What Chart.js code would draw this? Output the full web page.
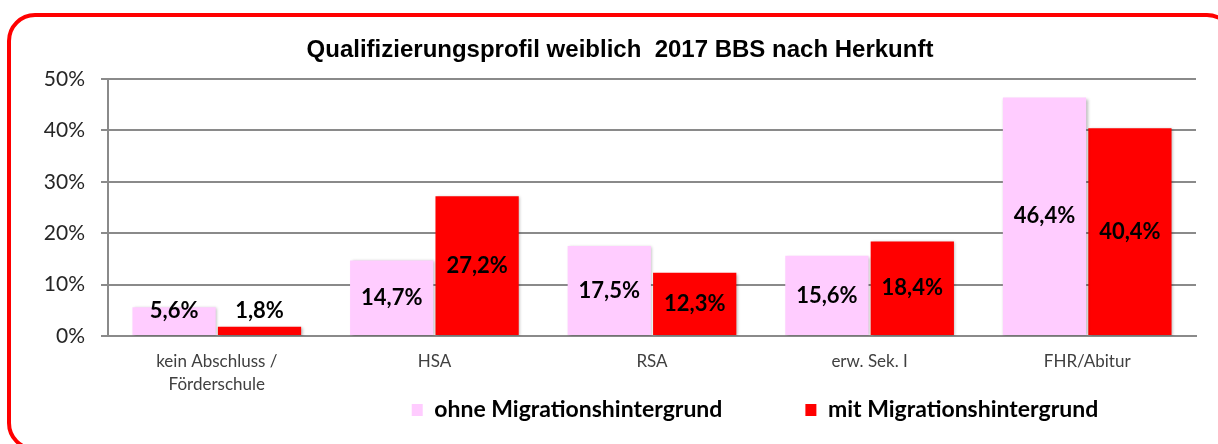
<!DOCTYPE html>
<html>
<head>
<meta charset="utf-8">
<script src="https://cdn.jsdelivr.net/npm/chart.js@4"></script>
<style>
  html, body { margin: 0; padding: 0; background: #fff; overflow: hidden; }
  #wrap { position: relative; width: 1218px; height: 444px; }
  #frame {
    position: absolute; left: 7px; top: 13px; width: 1228px; height: 438px;
    box-sizing: border-box; border: 4px solid #ff0000; border-radius: 28px;
  }
  #chart { position: absolute; left: 0; top: 0; }
</style>
</head>
<body>
<div id="wrap">
  <div id="frame"></div>
  <canvas id="chart" width="1218" height="444"></canvas>
</div>
<script>
const categories = [["kein Abschluss /", "Förderschule"], "HSA", "RSA", "erw. Sek. I", "FHR/Abitur"];
const ohneMigration = [5.6, 14.7, 17.5, 15.6, 46.4];
const mitMigration = [1.8, 27.2, 12.3, 18.4, 40.4];
const yTicks = [0, 10, 20, 30, 40, 50];

const fmt = v => v.toFixed(1).replace(".", ",") + "%";

// schatten unter den balken + werte in den balken
const barDecor = {
  id: "barDecor",
  beforeDatasetsDraw(chart) {
    const ctx = chart.ctx;
    ctx.save();
    ctx.shadowColor = "rgba(0,0,0,0.28)";
    ctx.shadowBlur = 3;
    ctx.shadowOffsetX = 1.5;
    ctx.shadowOffsetY = 1;
  },
  afterDatasetsDraw(chart) {
    const ctx = chart.ctx;
    ctx.restore();
    ctx.save();
    ctx.font = "bold 22px Lato";
    ctx.fillStyle = "#000";
    ctx.textAlign = "center";
    ctx.textBaseline = "middle";
    chart.data.datasets.forEach((ds, i) => {
      chart.getDatasetMeta(i).data.forEach((bar, j) => {
        const y = Math.min((bar.y + bar.base) / 2, bar.base - 24);
        ctx.fillText(fmt(ds.data[j]), bar.x, y);
      });
    });
    ctx.restore();
  }
};

// titel und legende wie im original verschieben
const placeBlocks = {
  id: "placeBlocks",
  afterLayout(chart) {
    const t = chart.titleBlock;
    const dt = 620 - (t.left + t.right) / 2;
    t.left += dt; t.right += dt;

    const lg = chart.legend;
    const dl = 755 - (lg.left + lg.right) / 2;
    lg.left += dl; lg.right += dl;
    const pad = lg.options.labels.padding;
    const h = lg.bottom - lg.top;
    lg.top = 410 - pad - lg.options.labels.font.size / 2;
    lg.bottom = lg.top + h;
  }
};

new Chart(document.getElementById("chart").getContext("2d"), {
  type: "bar",
  data: {
    labels: categories,
    datasets: [
      {
        label: "ohne Migrationshintergrund",
        data: ohneMigration,
        backgroundColor: "#ffccff"
      },
      {
        label: "mit Migrationshintergrund",
        data: mitMigration,
        backgroundColor: "#ff0000"
      }
    ]
  },
  options: {
    responsive: false,
    animation: false,
    categoryPercentage: 0.785,
    barPercentage: 0.975,
    layout: { padding: { left: 0, right: 22, top: 0, bottom: -74 } },
    plugins: {
      title: {
        display: true,
        text: "Qualifizierungsprofil weiblich  2017 BBS nach Herkunft",
        color: "#000",
        font: { family: "Liberation Sans", size: 24, weight: "bold" },
        padding: { top: 35.6, bottom: 14.6 }
      },
      legend: {
        position: "bottom",
        labels: {
          boxWidth: 11,
          boxHeight: 12,
          padding: 83,
          color: "#000",
          font: { family: "Lato", size: 23, weight: "bold" }
        }
      },
      tooltip: { enabled: false }
    },
    scales: {
      x: {
        grid: { display: false, drawTicks: false },
        border: { display: true, color: "#8a8a8a", width: 2 },
        ticks: {
          color: "#404040",
          padding: 14.5,
          maxRotation: 0,
          autoSkip: false,
          font: { family: "Lato", size: 17, lineHeight: 1.35 }
        },
        afterFit(scale) { scale.height = 66; }
      },
      y: {
        min: 0,
        max: 50,
        afterBuildTicks(scale) { scale.ticks = yTicks.map(v => ({ value: v })); },
        grid: { color: "#8a8a8a", lineWidth: 2, tickLength: 7 },
        border: { display: true, color: "#8a8a8a", width: 2 },
        ticks: {
          color: "#262626",
          padding: 16,
          font: { family: "Lato", size: 21 },
          callback: v => v + "%"
        },
        afterFit(scale) { scale.width = 108; }
      }
    }
  },
  plugins: [barDecor, placeBlocks]
});
</script>
</body>
</html>
